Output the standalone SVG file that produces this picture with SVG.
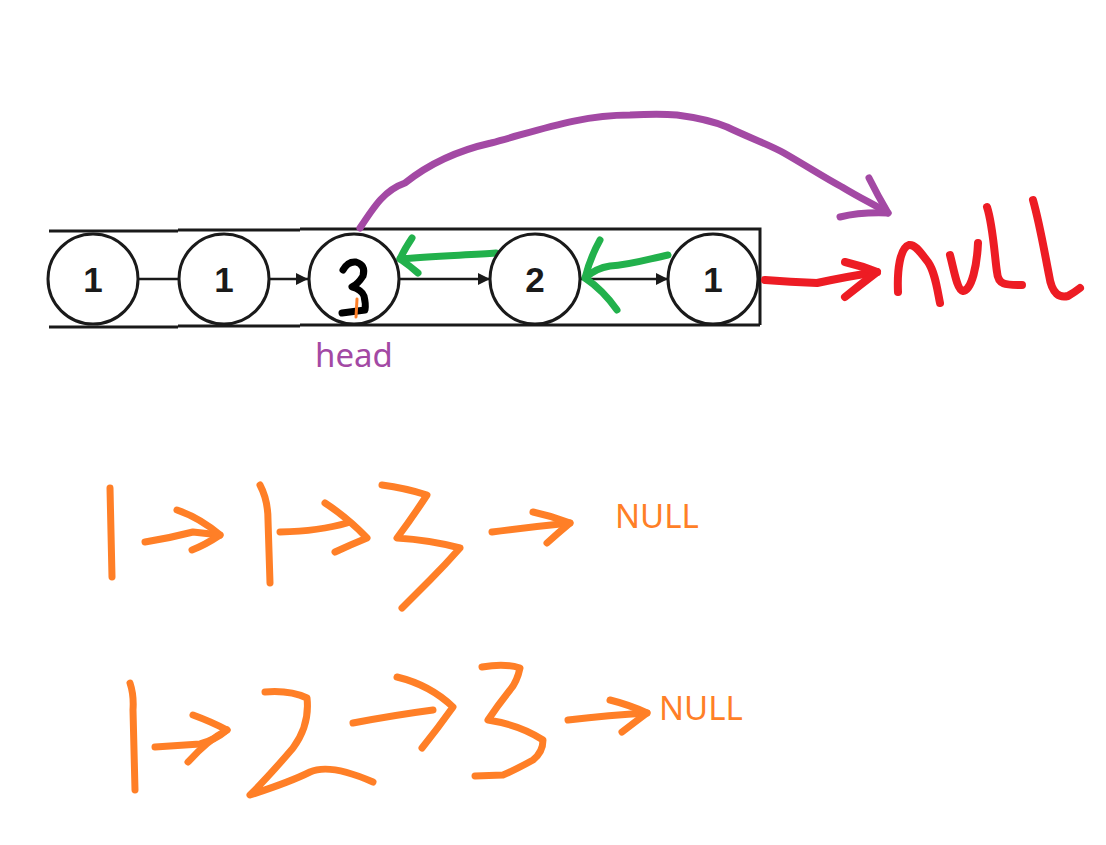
<svg xmlns="http://www.w3.org/2000/svg" width="1106" height="845" viewBox="0 0 1106 845">
<style>
.bg{fill:#fff}
.frame{stroke:#1a1a1a;stroke-width:3;fill:none}
.node circle{fill:#fff;stroke:#1a1a1a;stroke-width:3}
.num{font-family:"Liberation Sans",Arial,sans-serif;font-weight:bold;font-size:35px;fill:#1a1a1a;text-anchor:middle}
.link{stroke:#1a1a1a;stroke-width:2.5;fill:none}
.hand{fill:none;stroke-linecap:round;stroke-linejoin:round}
.green{stroke:#22b14c;stroke-width:7}
.purple{stroke:#a349a4;stroke-width:7}
.red{stroke:#ed1c24;stroke-width:8}
.orange{stroke:#ff7f27;stroke-width:7}
.black{stroke:#000;stroke-width:7}
.lbl{font-family:"Noto Sans","Open Sans",sans-serif;font-size:33px}
</style>
<defs>
<marker id="ah" viewBox="0 0 10 10" refX="10" refY="5" markerWidth="5" markerHeight="5" orient="auto" markerUnits="strokeWidth">
<path d="M0,0 L10,5 L0,10 z" fill="#1a1a1a"/>
</marker>
</defs>
<rect class="bg" x="0" y="0" width="1106" height="845"/>

<g id="frame">
<path class="frame" d="M49,231 H178 M178,230 H300 M300,229 H760 V325 M49,327 H178 M178,326 H300 M300,325 H760"/>
</g>

<g id="connectors">
<line class="link" x1="138" y1="279" x2="178" y2="279"/>
<line class="link" x1="270" y1="279" x2="308" y2="279" marker-end="url(#ah)"/>
<line class="link" x1="400" y1="279" x2="490" y2="279" marker-end="url(#ah)"/>
<line class="link" x1="580" y1="279" x2="668" y2="279" marker-end="url(#ah)"/>
<path class="hand green" d="M496,253 C470,255 430,256 400,259"/>
<path class="hand green" d="M412,238 Q404,250 400,259 Q410,266 418,273"/>
<path class="hand green" d="M668,255 C645,260 630,265 610,266 Q596,268 585,278"/>
<path class="hand green" d="M600,240 Q590,258 585,278 Q603,290 617,310"/>
<path class="hand purple" d="M360,228 C375,205 385,190 405,183 C430,163 460,150 491,143 C540,130 580,115 630,115 C650,114 665,114 677,115 C700,118 715,122 727,127 C750,138 770,145 784,153 C810,168 825,178 842,187 C860,198 875,205 888,213"/>
<path class="hand purple" d="M869,178 Q878,196 888,213 Q860,212 840,217"/>
<path class="hand red" d="M765,280 Q790,282 817,283 Q850,276 877,272"/>
<path class="hand red" d="M845,262 Q862,266 877,272 Q860,285 845,297"/>
</g>

<g id="node1" class="node">
<circle cx="93" cy="279" r="45"/>
<text class="num" x="93" y="292">1</text>
</g>
<g id="node2" class="node">
<circle cx="224" cy="279" r="45"/>
<text class="num" x="224" y="292">1</text>
</g>
<g id="node3" class="node">
<circle cx="354" cy="279" r="45"/>
<path class="hand black" d="M343,270 Q348,261 356,262 Q366,265 363,276 Q358,284 352,287 Q362,290 364,296 Q366,304 365,310 L342,313"/>
<line class="hand" stroke="#ff7f27" stroke-width="3" x1="357" y1="299" x2="356" y2="317"/>
</g>
<g id="node4" class="node">
<circle cx="535" cy="279" r="45"/>
<text class="num" x="535" y="292">2</text>
</g>
<g id="node5" class="node">
<circle cx="713" cy="279" r="45"/>
<text class="num" x="713" y="292">1</text>
</g>

<g id="head-label">
<text class="lbl" x="315" y="367" fill="#a349a4" font-size="32">head</text>
</g>

<g id="null-red" class="hand red">
<path d="M898,292 C897,270 900,248 909,245 C916,244 922,255 928,262 C935,272 937,288 940,303"/>
<path d="M950,255 C954,270 957,290 963,291 C972,290 977,265 978,243"/>
<path d="M987,207 C993,225 995,260 997,272 C998,285 1005,285 1022,285"/>
<path d="M1033,200 C1040,225 1045,255 1049,275 C1052,295 1060,298 1068,296 Q1075,292 1080,288"/>
</g>

<g id="seq1" class="hand orange">
<path d="M110,488 L112,577"/>
<path d="M145,542 Q170,538 193,532 L220,535"/>
<path d="M177,510 Q200,518 220,535 Q205,545 192,550"/>
<path d="M260,485 Q268,500 268,520 L270,583"/>
<path d="M280,532 Q320,531 347,523"/>
<path d="M325,503 Q348,518 367,538 Q350,545 335,552"/>
<path d="M382,485 Q405,488 427,495 Q412,518 397,538 Q430,540 460,548 Q445,565 430,580 L402,608"/>
<path d="M492,532 Q530,527 570,523"/>
<path d="M533,512 Q552,516 570,523 Q558,533 547,543"/>
</g>
<text class="lbl" x="615" y="528" fill="#ff7f27">NULL</text>

<g id="seq2" class="hand orange">
<path d="M130,683 Q134,695 133,710 L135,790"/>
<path d="M155,747 L200,744 Q215,740 227,730"/>
<path d="M193,715 Q212,722 227,730 Q208,740 188,762"/>
<path d="M265,692 Q290,690 307,698 Q310,725 293,748 Q270,775 250,795 Q290,782 310,772 Q330,763 373,782"/>
<path d="M353,723 Q395,715 433,710"/>
<path d="M397,677 Q430,685 453,707 Q438,728 422,748"/>
<path d="M482,667 Q505,663 520,668 Q517,682 510,690 Q498,705 488,720 Q520,725 543,740 Q543,752 533,760 Q515,770 503,775 L475,776"/>
<path d="M568,720 Q610,715 647,713"/>
<path d="M610,700 Q630,705 647,713 Q635,722 622,732"/>
</g>
<text class="lbl" x="659" y="720" fill="#ff7f27">NULL</text>
</svg>
